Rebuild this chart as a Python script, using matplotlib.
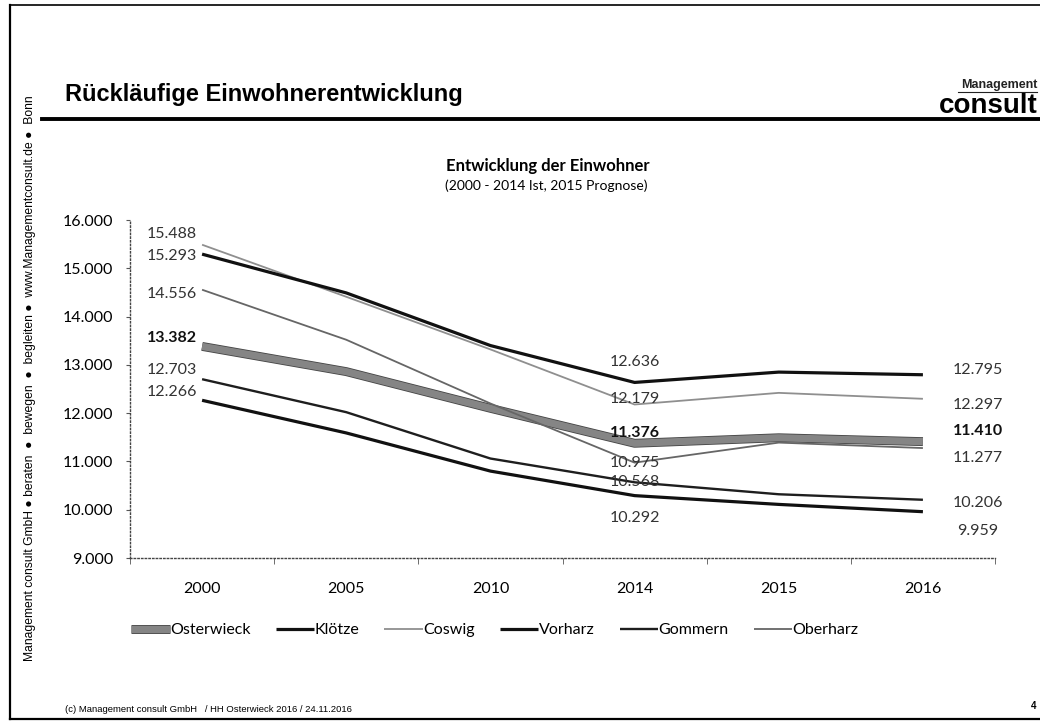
import matplotlib
matplotlib.use("Agg")
import matplotlib.pyplot as plt
import matplotlib.patheffects as pe
from matplotlib.ticker import FuncFormatter, FixedLocator
from matplotlib.lines import Line2D

# data
years = ["2000", "2005", "2010", "2014", "2015", "2016"]
osterwieck = [13382, 12860, 12100, 11376, 11490, 11410]
kloetze = [12266, 11590, 10800, 10292, 10110, 9959]
coswig = [15488, 14410, 13320, 12179, 12420, 12297]
vorharz = [15293, 14490, 13400, 12636, 12850, 12795]
gommern = [12703, 12020, 11060, 10568, 10320, 10206]
oberharz = [14556, 13520, 12200, 10975, 11390, 11277]
names = ["Osterwieck", "Klötze", "Coswig", "Vorharz", "Gommern", "Oberharz"]
labelled_idx = [0, 3, 5]   # points that carry a value label

W, H = 1040, 722


def fx(x):
    return x / W


def fy(y):
    return 1 - y / H


def de(v):
    return f"{v:,.0f}".replace(",", ".")


fig = plt.figure(figsize=(10.4, 7.22), dpi=100)
fig.patch.set_facecolor("white")

# page frame + header
fig.add_artist(Line2D([fx(10), fx(10)], [fy(5), fy(719)], color="black", lw=1.6))
fig.add_artist(Line2D([fx(10), fx(1040)], [fy(5), fy(5)], color="black", lw=1.2))
fig.add_artist(Line2D([fx(10), fx(1040)], [fy(719), fy(719)], color="black", lw=1.6))
fig.add_artist(Line2D([fx(42), fx(1040)], [fy(119), fy(119)], color="black", lw=2.8))

fig.text(fx(65), fy(94), "Rückläufige Einwohnerentwicklung", family="Liberation Sans",
         fontsize=17, fontweight="bold", va="center", ha="left")
fig.text(fx(1038), fy(85), "Management", family="Liberation Sans", fontsize=9,
         fontweight="bold", ha="right", va="center", color="#222")
fig.add_artist(Line2D([fx(958), fx(1037)], [fy(92), fy(92)], color="#222", lw=0.8))
fig.text(fx(1038), fy(106), "consult", family="Liberation Sans", fontsize=20,
         fontweight="bold", ha="right", va="center")

fig.text(fx(30), fy(378),
         "Management consult GmbH \u25cf beraten  \u25cf  bewegen  \u25cf  begleiten \u25cf  "
         "www.Managementconsult.de \u25cf  Bonn",
         family="Liberation Sans", fontsize=8.7, rotation=90, ha="center", va="center")
fig.text(fx(65), fy(710), "(c) Management consult GmbH   / HH Osterwieck 2016 / 24.11.2016",
         family="Liberation Sans", fontsize=6.8, va="center")
fig.text(fx(1031), fy(706), "4", family="Liberation Sans", fontsize=7,
         fontweight="bold", va="center")

# chart titles
fig.text(fx(548), fy(166), "Entwicklung der Einwohner", family="Lato", fontsize=12,
         fontweight="bold", ha="center", va="center")
fig.text(fx(546), fy(186), "(2000 - 2014 Ist, 2015 Prognose)", family="Lato",
         fontsize=10, ha="center", va="center")

ax = fig.add_axes([fx(130), fy(558), fx(995) - fx(130), fy(220) - fy(558)])

series = [osterwieck, kloetze, coswig, vorharz, gommern, oberharz]
styles = [
    dict(color="#858585", lw=5.2, path_effects=[pe.Stroke(linewidth=6.4, foreground="#444444"), pe.Normal()], zorder=3),
    dict(color="#111111", lw=2.3, zorder=4),
    dict(color="#8f8f8f", lw=1.3, zorder=4),
    dict(color="#111111", lw=2.3, zorder=4),
    dict(color="#1e1e1e", lw=1.7, zorder=4),
    dict(color="#666666", lw=1.3, zorder=4),
]
x = list(range(len(years)))
for vals, name, st in zip(series, names, styles):
    ax.plot(x, vals, label=name, solid_capstyle="butt", **st)

# label offsets in pixels (dx, dy downwards) for 2000, 2014, 2016
offsets = {
    "Osterwieck": [(-5, -8), (0, -10), (55, -11)],
    "Klötze": [(-5, -8), (0, 22), (55, 19)],
    "Coswig": [(-5, -11), (0, -5), (55, 6)],
    "Vorharz": [(-5, 2), (0, -20), (55, -5)],
    "Gommern": [(-5, -9), (0, 0), (55, 3)],
    "Oberharz": [(-5, 4), (0, 0), (55, 10)],
}
for vals, name in zip(series, names):
    for k, i in enumerate(labelled_idx):
        dx, dy = offsets[name][k]
        ha = "right" if k == 0 else "center"
        ax.annotate(de(vals[i]), (x[i], vals[i]), xytext=(dx * 0.72, -dy * 0.72),
                    textcoords="offset points", ha=ha, va="center", family="Lato",
                    fontsize=11.5, color="#111" if name == "Osterwieck" else "#333",
                    fontweight="bold" if name == "Osterwieck" else "normal",
                    zorder=6, annotation_clip=False)

ax.set_xlim(-0.5, len(years) - 0.5)
ax.set_ylim(9000, 16000)
ax.yaxis.set_major_locator(FixedLocator(range(9000, 16001, 1000)))
ax.yaxis.set_major_formatter(FuncFormatter(lambda v, p: de(v)))
ax.set_xticks(x)
ax.set_xticklabels(years)
ax.xaxis.set_minor_locator(FixedLocator([i - 0.5 for i in range(len(years) + 1)]))
ax.tick_params(axis="x", which="major", length=0, pad=17, labelsize=11.5)
ax.tick_params(axis="x", which="minor", length=4, color="#555")
ax.tick_params(axis="y", length=3, pad=9, labelsize=11.5, color="#555")
for lab in ax.get_xticklabels() + ax.get_yticklabels():
    lab.set_family("Lato")
for s in ["top", "right"]:
    ax.spines[s].set_visible(False)
for s in ["left", "bottom"]:
    ax.spines[s].set_linestyle(":")
    ax.spines[s].set_color("#444")
    ax.spines[s].set_linewidth(1.0)

ax.legend(loc="center", bbox_to_anchor=(fx(495), fy(630)), bbox_transform=fig.transFigure,
          ncol=6, frameon=False, handlelength=2.4, handletextpad=0.05, columnspacing=1.55,
          prop={"family": "Lato", "size": 11.5})

fig.savefig("out.png", dpi=100)
